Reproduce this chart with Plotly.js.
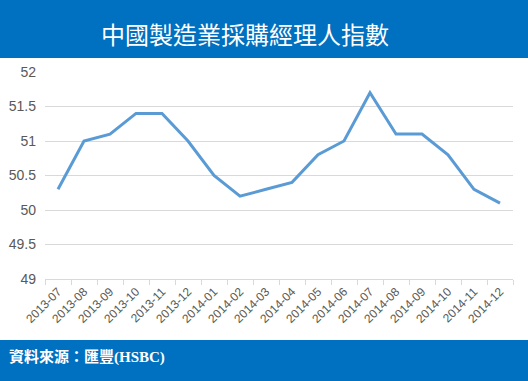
<!DOCTYPE html>
<html>
<head>
<meta charset="utf-8">
<script src="https://cdn.plot.ly/plotly-3.0.1.min.js"></script>
<style>html,body{margin:0;padding:0;background:#fff;}#chart{width:528px;height:381px;}</style>
</head>
<body>
<div id="chart"></div>
<script>
const months = ["2013-07","2013-08","2013-09","2013-10","2013-11","2013-12","2014-01","2014-02","2014-03","2014-04","2014-05","2014-06","2014-07","2014-08","2014-09","2014-10","2014-11","2014-12"];
const pmi = [50.3,51.0,51.1,51.4,51.4,51.0,50.5,50.2,50.3,50.4,50.8,51.0,51.7,51.1,51.1,50.8,50.3,50.1];
const yTicks = [49,49.5,50,50.5,51,51.5,52];
const titleText = "中國製造業採購經理人指數";
const sourceText = "資料來源：匯豐(HSBC)";

const W = 528, H = 381, L = 45, R = 15, T = 72, B = 102;
const pw = W - L - R, ph = H - T - B;
const px = v => (v - L) / pw;
const py = v => (H - B - v) / ph;

const trace = {
  x: months, y: pmi, type: "scatter", mode: "lines",
  line: {color: "#5b9bd5", width: 3}, hoverinfo: "x+y"
};
const layout = {
  width: W, height: H,
  margin: {l: L, r: R, t: T, b: B, pad: 0},
  paper_bgcolor: "#ffffff", plot_bgcolor: "#ffffff",
  showlegend: false,
  font: {family: "Liberation Sans, Arial, sans-serif", color: "#595959"},
  xaxis: {
    type: "category", range: [-0.5, months.length - 0.5],
    tickson: "boundaries", ticks: "outside", ticklen: 5, tickcolor: "#d9d9d9",
    showgrid: false, showline: true, linecolor: "#d9d9d9", linewidth: 1,
    tickangle: -45, tickfont: {size: 12, color: "#595959"}, fixedrange: true
  },
  yaxis: {
    range: [49, 52], tickvals: yTicks, ticktext: yTicks.map(String),
    showgrid: true, gridcolor: "#d9d9d9", gridwidth: 1, zeroline: false,
    showline: false, ticks: "", tickfont: {size: 14, color: "#595959"},
    ticklabelstandoff: 8, fixedrange: true
  },
  shapes: [
    {type: "rect", xref: "paper", yref: "paper", x0: px(0), x1: px(W), y0: py(58), y1: py(0), fillcolor: "#0070c0", line: {width: 0}, layer: "below"},
    {type: "rect", xref: "paper", yref: "paper", x0: px(0), x1: px(W), y0: py(H), y1: py(340), fillcolor: "#0070c0", line: {width: 0}, layer: "below"}
  ],
  annotations: [
    {text: titleText, xref: "paper", yref: "paper", x: px(245), y: py(33), xanchor: "center", yanchor: "middle", showarrow: false,
     font: {family: "Noto Sans CJK TC, sans-serif", size: 24, color: "#ffffff"}},
    {text: sourceText, xref: "paper", yref: "paper", x: px(7), y: py(357), xanchor: "left", yanchor: "middle", showarrow: false,
     font: {family: "Liberation Serif, Noto Sans CJK TC, serif", size: 15, color: "#ffffff", weight: "bold"}}
  ]
};
Plotly.newPlot("chart", [trace], layout, {displayModeBar: false, staticPlot: true});
</script>
</body>
</html>
